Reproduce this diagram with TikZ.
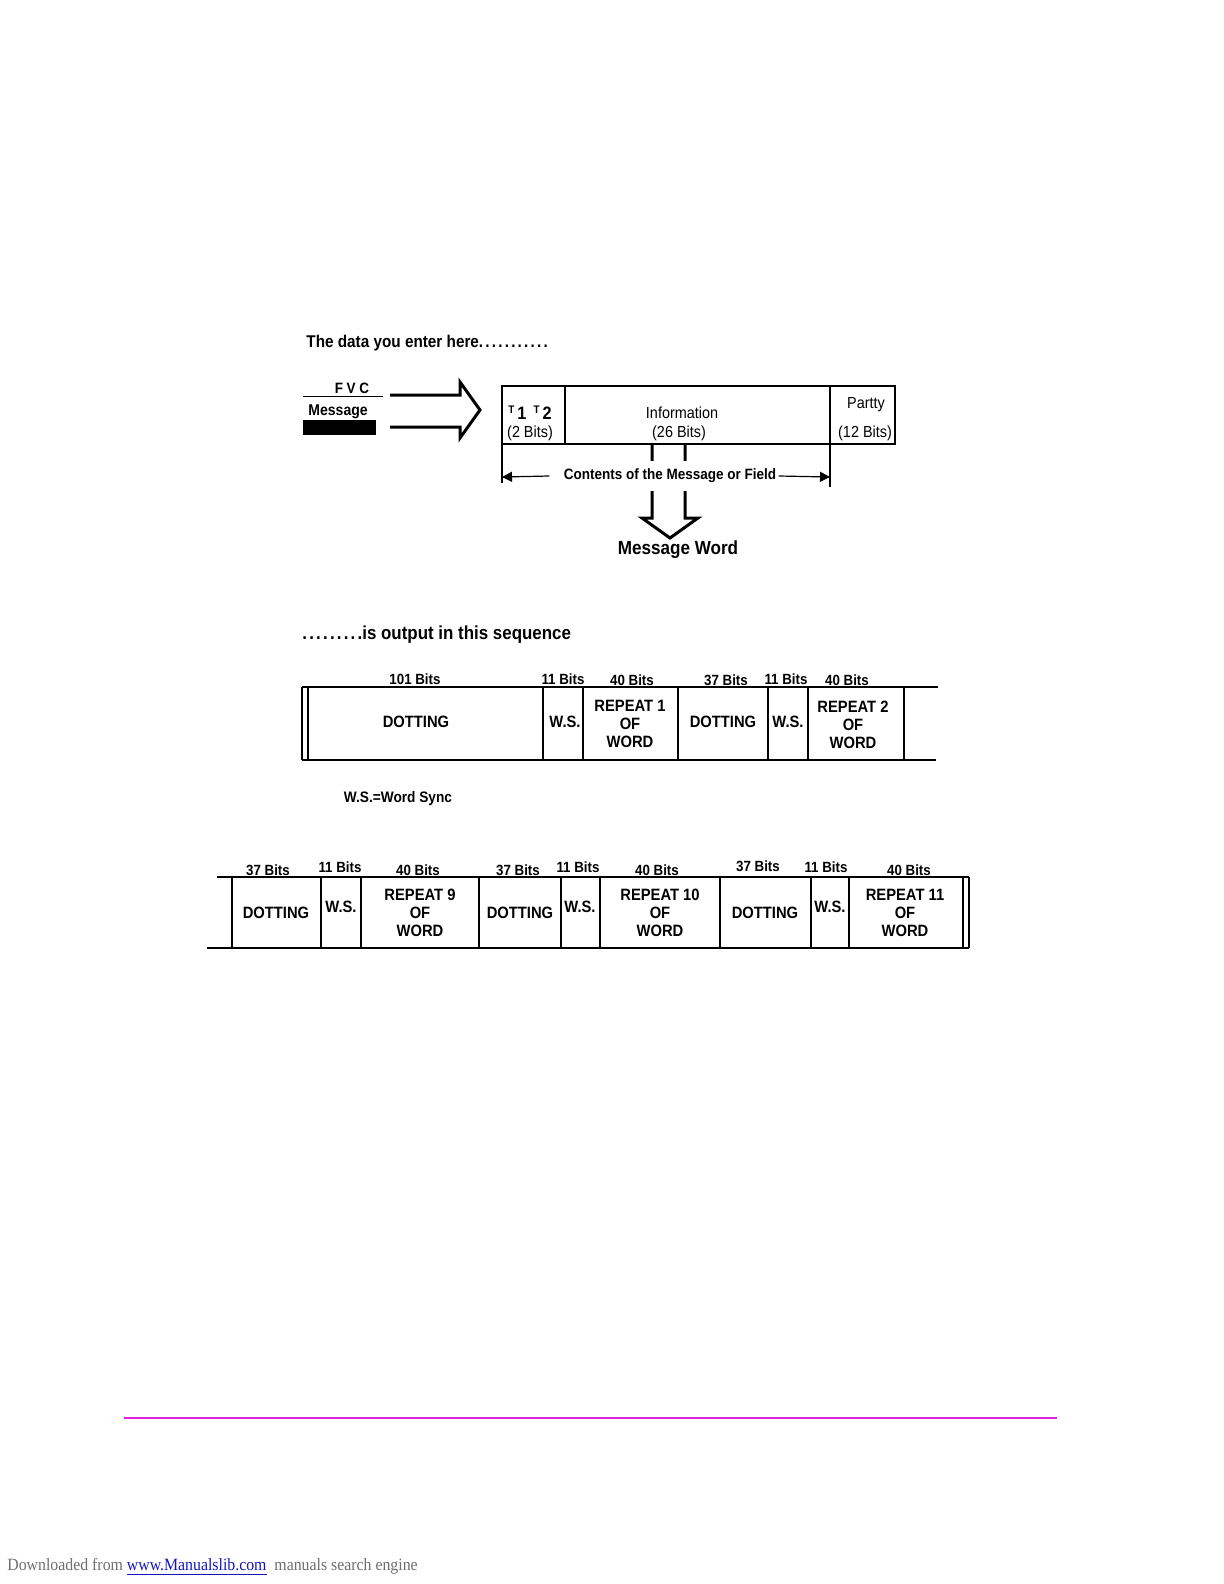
\documentclass[tikz,border=0pt]{standalone}
\usepackage{fontspec}
\setmainfont{Liberation Sans}[FakeStretch=0.9]
\newfontfamily\footfont{Liberation Serif}[FakeStretch=0.92]
\usetikzlibrary{arrows.meta, positioning}
\definecolor{rulepink}{RGB}{222,34,222}
\definecolor{linkblue}{RGB}{20,20,190}
\definecolor{footgray}{RGB}{110,110,110}
\newcommand\spdot{.\kern1.1pt}

\begin{document}
\begin{tikzpicture}[
    x=0.5pt, y=-0.5pt,
    every node/.style={inner sep=0pt, font=\bfseries\fontsize{8.5}{10}\selectfont},
    bits/.style={font=\bfseries\fontsize{7.4}{8}\selectfont},
    cell/.style={align=center, font=\bfseries\fontsize{8.2}{9}\selectfont},
    field/.style={font=\fontsize{8}{9}\selectfont},
    frame/.style={draw, line width=0.75pt},
    hollow/.style={draw, line width=1.5pt, line join=miter},
    dim/.style={draw, line width=0.6pt, -{Triangle[length=5pt, width=5pt]}}
]
\useasboundingbox (0,0) rectangle (1224,1584);

% input side
\node[anchor=west] (title1) at (306,343) {The data you enter here\spdot\spdot\spdot\spdot\spdot\spdot\spdot\spdot\spdot\spdot\spdot};
\node[font=\bfseries\fontsize{7.5}{9}\selectfont] (fvc) at (352,388) {F V C};
\draw[line width=0.5pt] (303,396) -- (383,396);
\node[anchor=west, font=\bfseries\fontsize{7.8}{9}\selectfont] (msg) at (308,412) {Message};
\fill (303,420) rectangle (376,435);
\draw[hollow] (390,395) -- (460,395) -- (460,382) -- (480,410)
    -- (460,438) -- (460,427) -- (390,427);

% message word box
\draw[frame] (502,386) rectangle (895,444);
\draw[frame] (565,386) -- (565,444);
\draw[frame] (830,386) -- (830,444);
\node (t12) at (530,413) {\fontsize{5.5}{6}\selectfont T\kern1.5pt\raisebox{-3pt}{\fontsize{9}{10}\selectfont 1}\kern3.5pt T\kern1.5pt\raisebox{-3pt}{\fontsize{9}{10}\selectfont 2}};
\node[field] (t12bits) at (530,433) {(2 Bits)};
\node[field] (info) at (682,413) {Information};
\node[field] (infobits) at (679,433) {(26 Bits)};
\node[field] (par) at (866,405) {Partty};
\node[field] (parbits) at (865,433) {(12 Bits)};

% down arrow and field span
\draw[hollow] (652,444) -- (652,518) -- (642,518) -- (670,538)
    -- (698,518) -- (685,518) -- (685,444);
\draw[line width=0.6pt] (502,444) -- (502,483);
\draw[line width=0.6pt] (830,444) -- (830,487);
\coordinate (spanL) at (502,477);
\coordinate (spanR) at (830,477);
\node[fill=white, inner ysep=4pt, inner xsep=1pt, font=\bfseries\fontsize{7.5}{9}\selectfont]
    (contents) at (670,476) {Contents of the Message or Field};
\draw[dim] ([xshift=-6pt]contents.west) -- (spanL);
\draw[dim] (contents.east) -- (spanR);
\node[anchor=base, font=\bfseries\fontsize{9.5}{11}\selectfont] (word) at (678,554) {Message Word};

% output sequence, first part
\node[anchor=west, font=\bfseries\fontsize{9.4}{10}\selectfont] (title2) at (302,635) {\spdot\spdot\spdot\spdot\spdot\spdot\spdot\spdot.is output in this sequence};
\draw[frame] (302,687) -- (938,687);
\draw[frame] (302,760) -- (936,760);
\foreach \x in {302,308,543,583,678,768,808,904}
    \draw[frame] (\x,687) -- (\x,760);
\node[bits] (b1) at (415,679) {101 Bits};
\node[bits] (b2) at (563,679) {11 Bits};
\node[bits] (b3) at (632,680) {40 Bits};
\node[bits] (b4) at (726,680) {37 Bits};
\node[bits] (b5) at (786,679) {11 Bits};
\node[bits] (b6) at (847,680) {40 Bits};
\node[cell] (dot1) at (416,722) {DOTTING};
\node[cell] (ws1) at (565,722) {W.S.};
\node[cell] (rep1) at (630,724) {REPEAT 1\\OF\\WORD};
\node[cell] (dot2) at (723,722) {DOTTING};
\node[cell] (ws2) at (788,722) {W.S.};
\node[cell] (rep2) at (853,725) {REPEAT 2\\OF\\WORD};
\node[font=\bfseries\fontsize{7.6}{9}\selectfont] (wsnote) at (398,799) {W.S.=Word Sync};

% output sequence, last part
\draw[frame] (217,877) -- (969,877);
\draw[frame] (207,948) -- (969,948);
\foreach \x in {232,321,361,479,561,600,720,811,849,963,969}
    \draw[frame] (\x,877) -- (\x,948);
\node[bits] (c1) at (268,870) {37 Bits};
\node[bits] (c2) at (340,867) {11 Bits};
\node[bits] (c3) at (418,870) {40 Bits};
\node[bits] (c4) at (518,870) {37 Bits};
\node[bits] (c5) at (578,867) {11 Bits};
\node[bits] (c6) at (657,870) {40 Bits};
\node[bits] (c7) at (758,866) {37 Bits};
\node[bits] (c8) at (826,867) {11 Bits};
\node[bits] (c9) at (909,870) {40 Bits};
\node[cell] (dot9) at (276,913) {DOTTING};
\node[cell] (ws9) at (341,907) {W.S.};
\node[cell] (rep9) at (420,913) {REPEAT 9\\OF\\WORD};
\node[cell] (dot10) at (520,913) {DOTTING};
\node[cell] (ws10) at (580,907) {W.S.};
\node[cell] (rep10) at (660,913) {REPEAT 10\\OF\\WORD};
\node[cell] (dot11) at (765,913) {DOTTING};
\node[cell] (ws11) at (830,907) {W.S.};
\node[cell] (rep11) at (905,913) {REPEAT 11\\OF\\WORD};

% page foot
\draw[rulepink, line width=1.3pt] (124,1418) -- (1057,1418);
\node[anchor=west, font=\footfont\fontsize{8.6}{10}\selectfont, text=footgray] (foot) at (7,1567)
    {Downloaded from \textcolor{linkblue}{\underline{www.Manualslib.com}}\ \ manuals search engine};
\end{tikzpicture}
\end{document}
